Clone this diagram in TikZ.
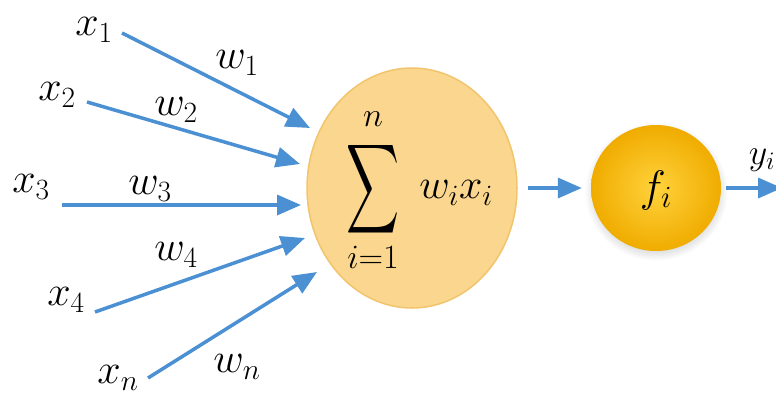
\RequirePackage{fix-cm}
\documentclass[tikz,border=0pt]{standalone}
\usetikzlibrary{arrows.meta,shapes.geometric,shadows}
\definecolor{arrowblue}{RGB}{74,144,210}
\definecolor{ellfill}{RGB}{250,214,142}
\definecolor{elldraw}{RGB}{242,196,110}
\definecolor{fin}{RGB}{255,210,60}
\definecolor{fout}{RGB}{240,172,0}
\begin{document}
\begin{tikzpicture}[x=1pt,y=-1pt,
  conn/.style={draw=arrowblue,line width=3.5pt,-{Triangle[length=24pt,width=20pt]}},
  lab/.style={inner sep=0pt,font=\fontsize{42}{50}\selectfont},
  limlab/.style={inner sep=0pt,font=\fontsize{34}{40}\selectfont},
  ]
\useasboundingbox (0,0) rectangle (776,400);
\clip (0,0) rectangle (776,400);

% input labels
\node[lab] (x1) at (94,30) {$x_1$};
\node[lab] (x2) at (57,95) {$x_2$};
\node[lab] (x3) at (31,187) {$x_3$};
\node[lab] (x4) at (66,300) {$x_4$};
\node[lab] (xn) at (118,378) {$x_n$};
% weights
\node[lab] (w1) at (237,63) {$w_1$};
\node[lab] (w2) at (176,110) {$w_2$};
\node[lab] (w3) at (150,189) {$w_3$};
\node[lab] (w4) at (176,255) {$w_4$};
\node[lab] (wn) at (237,367) {$w_n$};

% summation ellipse
\node[ellipse,fill=ellfill,draw=elldraw,line width=1.5pt,minimum width=210pt,minimum height=240pt] (sum) at (412,188) {};
\node[inner sep=0pt] (sigma) at (373,189) {\resizebox*{53pt}{100pt}{$\displaystyle\sum$}};
\node[limlab] (upper) at (373,119) {$n$};
\node[limlab] (lower) at (373,257) {$i{=}1$};
\node[lab] (terms) at (456,193) {$w_i x_i$};

% activation circle
\node[ellipse,minimum width=130pt,minimum height=126pt,inner color=fin,outer color=fout,
  circular drop shadow={shadow xshift=0pt,shadow yshift=-3pt,opacity=0.25}] (f) at (656,188) {};
\node[inner sep=0pt,font=\fontsize{44}{52}\selectfont] (flab) at (656,190) {$f_i$};

\node[inner sep=0pt,font=\fontsize{36}{42}\selectfont] (y) at (762,160) {$y_i$};

% arrow start/end coordinates
\coordinate (s1) at (122,33);  \coordinate (t1) at (310,128);
\coordinate (s2) at (87,102);  \coordinate (t2) at (300,164);
\coordinate (s3) at (62,205);  \coordinate (t3) at (301,205);
\coordinate (s4) at (95,312);  \coordinate (t4) at (305,238);
\coordinate (s5) at (148,378); \coordinate (t5) at (317,272);
\coordinate (out) at (782,188);

\draw[conn] (s1) -- (t1);
\draw[conn] (s2) -- (t2);
\draw[conn] (s3) -- (t3);
\draw[conn] (s4) -- (t4);
\draw[conn] (s5) -- (t5);
\draw[conn] ([xshift=10pt]sum.east) -- ([xshift=-9pt]f.west);
\draw[conn] ([xshift=5pt]f.east) -- (out);
\end{tikzpicture}
\end{document}
